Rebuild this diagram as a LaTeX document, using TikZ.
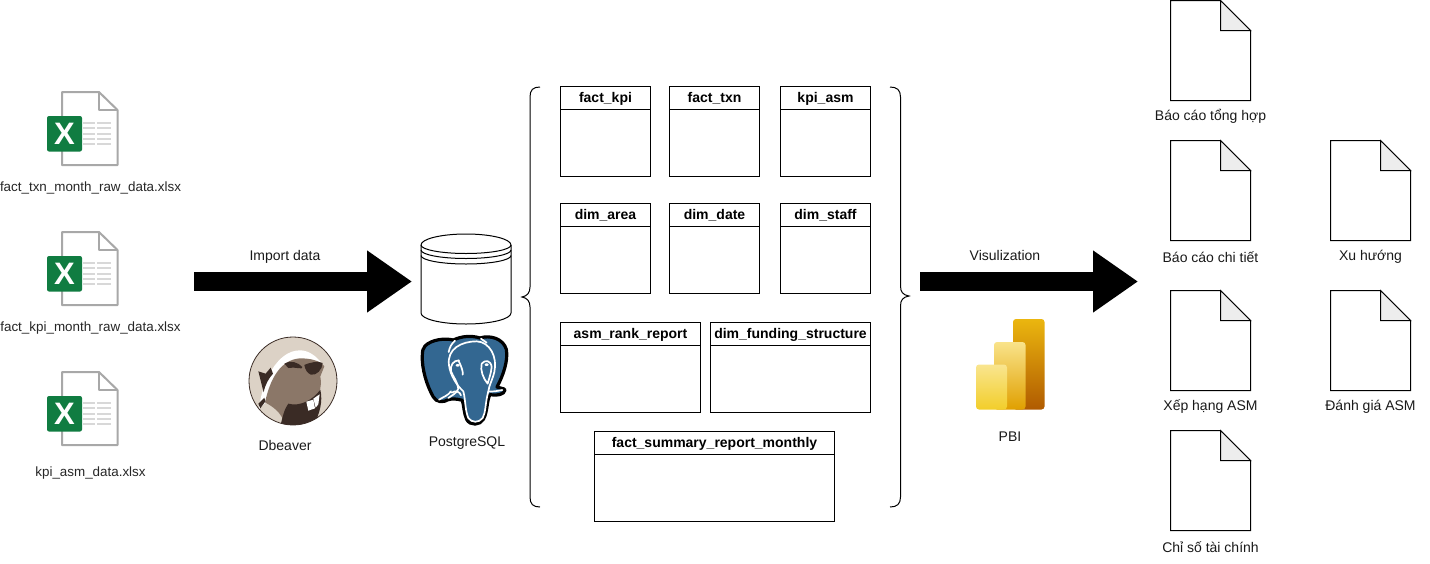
\documentclass[tikz,border=0pt]{standalone}
\usepackage{fontspec}
\setmainfont{Liberation Sans}
\usetikzlibrary{arrows.meta}
\definecolor{xlgreen}{HTML}{107C41}
\definecolor{xlgray}{HTML}{A8A8A8}
\definecolor{xlrow}{HTML}{D8D8D8}
\definecolor{pgblue}{HTML}{336791}
\definecolor{bvbg}{HTML}{DCD2C6}
\definecolor{bvbody}{HTML}{8B7768}
\definecolor{bvdark}{HTML}{3A2B25}
\definecolor{pbiAt}{HTML}{EBB60F}
\definecolor{pbiAb}{HTML}{B05A00}
\definecolor{pbiBt}{HTML}{F9E38A}
\definecolor{pbiBb}{HTML}{E09F00}
\definecolor{pbiCt}{HTML}{F9E58F}
\definecolor{pbiCb}{HTML}{F2CE2A}
\tikzset{
  x=1pt,y=-1pt,
  caption/.style={font=\fontsize{14}{16}\selectfont,anchor=base,inner sep=0pt,text=black!90},
  filename/.style={font=\fontsize{13.4}{16}\selectfont,anchor=base,inner sep=0pt,text=black!85},
  tablebox/.style={draw=black,line width=1pt,anchor=north west,inner sep=0pt,outer sep=0pt,fill=white},
  tablehead/.style={draw=black,line width=1pt,anchor=north west,inner sep=0pt,outer sep=0pt,minimum height=23pt,
    font=\fontsize{14}{16}\selectfont\bfseries,text height=11.5pt,text depth=2.5pt},
  pageline/.style={draw=black,line width=1pt,line join=miter},
  bigarrow/.style={line width=19.5pt,-{Triangle[length=45pt,width=59pt,sep=0pt]},black},
  bracket/.style={draw=black,line width=1pt},
}
\newcommand{\xlicon}[2]{%
  \begin{scope}[shift={(#1,#2)}]
    \draw[xlgray,line width=2pt,line join=round,fill=white]
      (62,92) -- (99,92) -- (117.5,110) -- (117.5,165) -- (62,165) -- cycle;
    \draw[xlgray,line width=2pt,line join=round] (99,92) -- (99,109.5) -- (117.5,109.5);
    \foreach \ry in {123,128,133.5,139,144}{
      \draw[xlrow,line width=2pt] (83,\ry) -- (95,\ry);
      \draw[xlrow,line width=2pt] (97,\ry) -- (111,\ry);
    }
    \fill[xlgreen,rounded corners=2pt] (47,116) rectangle (82,151.5);
    \node[inner sep=0pt,text=white,font=\fontsize{31}{31}\selectfont\bfseries] at (64.5,134) {X};
  \end{scope}}
\newcommand{\docshape}[5]{%
  \draw[pageline,fill=white] (#1,#2) -- (#1+50,#2) -- (#1+80,#2+30) -- (#1+80,#2+100) -- (#1,#2+100) -- cycle;
  \draw[pageline,fill=black!7] (#1+50,#2) -- (#1+80,#2+30) -- (#1+50,#2+30) -- cycle;
  \node[caption] (#3) at (#1+40,#4) {#5};}
\newcommand{\dbtable}[6]{%
  \node[tablebox,minimum width=#4pt,minimum height=#5pt] (#1) at (#2,#3) {};
  \node[tablehead,minimum width=#4pt] (#1-head) at (#1.north west) {#6};}
\begin{document}
\begin{tikzpicture}
\useasboundingbox (0,0) rectangle (1430,563);

% spreadsheets
\xlicon{0}{0}
\xlicon{0}{140}
\xlicon{0}{280}
\node[filename] (f1) at (90.5,191) {fact\_txn\_month\_raw\_data.xlsx};
\node[filename] (f2) at (90.5,331) {fact\_kpi\_month\_raw\_data.xlsx};
\node[filename] (f3) at (90.5,476) {kpi\_asm\_data.xlsx};

% arrows
\coordinate (a1s) at (194,281.5);
\coordinate (a1e) at (412,281.5);
\coordinate (a2s) at (920,281.5);
\coordinate (a2e) at (1138,281.5);
\draw[bigarrow] (a1s) -- (a1e);
\draw[bigarrow] (a2s) -- (a2e);
\node[caption] (imp) at (285,260) {Import data};
\node[caption] (vis) at (1005,260) {Visulization};

% cylinder
\draw[line width=1pt,fill=white] (421,245) -- (421,313) arc[start angle=180,end angle=0,x radius=45,y radius=11]
  -- (511,245) arc[start angle=0,end angle=-180,x radius=45,y radius=11] -- cycle;
\draw[line width=1pt] (421,245) arc[start angle=180,end angle=0,x radius=45,y radius=8.5];
\draw[line width=1pt] (421,250) arc[start angle=180,end angle=0,x radius=45,y radius=8.5];
\draw[line width=1pt] (421,255.5) arc[start angle=180,end angle=0,x radius=45,y radius=8.5];

% beaver
\begin{scope}[shift={(245,333)},x=0.3333pt,y=-0.3333pt]
  \fill[bvbg] (144,144) circle[radius=132];
  \begin{scope}
    \clip (144,144) circle[radius=132];
    \fill[white] (42,228) .. controls (50,150) and (95,52) .. (165,52) .. controls (190,52) and (212,68) .. (228,88)
      -- (170,90) .. controls (125,85) and (85,130) .. (66,205) -- cycle;
    \fill[bvbody] (60,208) .. controls (75,140) and (105,80) .. (165,76) .. controls (195,76) and (225,82) .. (238,100)
      -- (226,130) .. controls (232,165) and (222,195) .. (190,220) -- (118,268)
      .. controls (105,235) and (85,222) .. (60,208) -- cycle;
    \fill[bvdark] (40,115) -- (62,122) -- (77,104) -- (84,122) .. controls (72,135) and (60,155) .. (56,178)
      .. controls (50,155) and (45,135) .. (40,115) -- cycle;
    \fill[bvdark] (106,280) .. controls (113,250) and (118,228) .. (130,212)
      .. controls (165,222) and (205,200) .. (226,170) .. controls (234,205) and (225,240) .. (205,280) -- cycle;
    \fill[bvdark] (40,212) -- (58,194) -- (61,205) -- (46,226) -- cycle;
    \fill[bvdark] (118,92) .. controls (135,80) and (160,88) .. (172,102) .. controls (175,112) and (150,100) .. (130,105) -- cycle;
    \fill[bvdark] (178,96) .. controls (190,90) and (220,82) .. (233,90) .. controls (232,110) and (215,128) .. (198,125)
      .. controls (188,122) and (180,110) .. (178,96) -- cycle;
    \fill[white] (184,206) -- (205,200) -- (210,226) -- (190,233) -- cycle;
    \fill[white] (205,197) -- (224,184) -- (220,214) -- (212,224) -- cycle;
  \end{scope}
  \draw[bvdark,line width=0.8pt] (144,144) circle[radius=132];
\end{scope}
\node[caption] (dbv) at (285,450) {Dbeaver};

% elephant
\begin{scope}[shift={(415,332)},x=0.3333pt,y=-0.3333pt]
  \path[fill=pgblue,draw=black,line width=3.2pt,line join=round]
    (30,42) .. controls (50,22) and (90,18) .. (115,24)
    .. controls (140,12) and (170,10) .. (195,18)
    .. controls (225,8) and (265,20) .. (274,52)
    .. controls (280,85) and (265,130) .. (246,165)
    .. controls (255,170) and (268,168) .. (270,174)
    .. controls (268,188) and (245,192) .. (225,188)
    .. controls (215,205) and (218,240) .. (205,262)
    .. controls (195,280) and (165,282) .. (155,262)
    .. controls (147,245) and (147,222) .. (142,205)
    .. controls (125,200) and (110,200) .. (100,203)
    .. controls (85,212) and (65,212) .. (55,195)
    .. controls (35,160) and (20,110) .. (22,70)
    .. controls (22,58) and (24,48) .. (30,42) -- cycle;
  \begin{scope}[draw=white,line width=1.7pt,line cap=round,line join=round]
    % head loop round forehead and trunk
    \draw (145,178) .. controls (125,160) and (106,130) .. (102,100)
      .. controls (95,50) and (140,28) .. (185,28)
      .. controls (225,30) and (248,75) .. (238,120)
      .. controls (232,145) and (222,160) .. (220,178)
      .. controls (210,215) and (213,240) .. (203,258)
      .. controls (192,273) and (170,273) .. (160,258)
      .. controls (150,235) and (152,205) .. (145,178);
    \draw (120,26) .. controls (110,35) and (104,45) .. (101,60);
    \draw (198,20) -- (215,32);
    \draw (220,178) .. controls (235,180) and (250,176) .. (262,174);
    % eyes
    \draw (132,85) .. controls (115,85) and (105,100) .. (108,118)
      .. controls (115,135) and (128,150) .. (130,170) .. controls (125,185) and (110,190) .. (100,198);
    \draw (130,85) .. controls (140,105) and (145,120) .. (143,128);
    \draw (200,95) .. controls (210,82) and (228,85) .. (230,105)
      .. controls (228,125) and (222,140) .. (218,155) .. controls (205,140) and (195,115) .. (200,95) -- cycle;
    % lip
    \draw (108,178) .. controls (100,190) and (85,195) .. (72,203);
    \draw (110,182) .. controls (120,175) and (135,178) .. (138,190);
  \end{scope}
  \fill[white] (128,100) ellipse[x radius=6,y radius=4];
  \fill[white] (215,98) ellipse[x radius=6,y radius=4];
\end{scope}
\node[caption] (pg) at (467,446) {PostgreSQL};

% braces
\coordinate (bl) at (522,297);
\draw[bracket] (540,87) .. controls (533,87) and (530,90) .. (530,97) -- (530,287)
  .. controls (530,293) and (527,296) .. (bl) .. controls (527,298) and (530,301) .. (530,307)
  -- (530,497) .. controls (530,504) and (533,507) .. (540,507);
\coordinate (br) at (909,296);
\draw[bracket] (890,87) .. controls (897,87) and (900.5,90) .. (900.5,97) -- (900.5,286)
  .. controls (900.5,292) and (903,295) .. (br) .. controls (903,297) and (900.5,300) .. (900.5,306)
  -- (900.5,497) .. controls (900.5,504) and (897,507) .. (890,507);

% tables
\dbtable{t1}{560.5}{86.5}{90}{90}{fact\_kpi}
\dbtable{t2}{669.5}{86.5}{90}{90}{fact\_txn}
\dbtable{t3}{780.5}{86.5}{90}{90}{kpi\_asm}
\dbtable{t4}{560.5}{203.5}{90}{90}{dim\_area}
\dbtable{t5}{669.5}{203.5}{90}{90}{dim\_date}
\dbtable{t6}{780.5}{203.5}{90}{90}{dim\_staff}
\dbtable{t7}{560.5}{322.5}{140}{90}{asm\_rank\_report}
\dbtable{t8}{710.5}{322.5}{160}{90}{dim\_funding\_structure}
\dbtable{t9}{594.5}{431.5}{240}{90}{fact\_summary\_report\_monthly}

% Power BI
\shade[top color=pbiAt,bottom color=pbiAb,rounded corners=3pt] (1013,319) rectangle (1044.5,409.5);
\shade[top color=pbiBt,bottom color=pbiBb,rounded corners=3pt] (994,342) rectangle (1025.5,409.5);
\shade[top color=pbiCt,bottom color=pbiCb,rounded corners=3pt] (976,364.5) rectangle (1007,409.5);
\node[caption] (pbi) at (1010,441) {PBI};

% reports
\docshape{1170.5}{0.5}{d1}{120}{Báo cáo tổng hợp}
\docshape{1170.5}{140.5}{d2}{262}{Báo cáo chi tiết}
\docshape{1170.5}{290.5}{d3}{410}{Xếp hạng ASM}
\docshape{1170.5}{430.5}{d4}{552}{Chỉ số tài chính}
\docshape{1330.5}{140.5}{d5}{260}{Xu hướng}
\docshape{1330.5}{290.5}{d6}{410}{Đánh giá ASM}
\end{tikzpicture}
\end{document}
